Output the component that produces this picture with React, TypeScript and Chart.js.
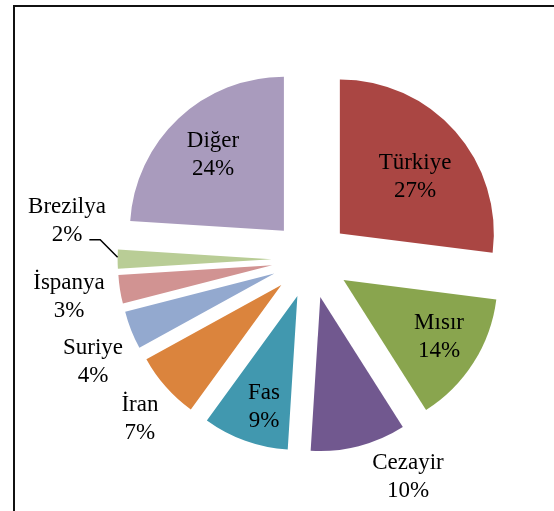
import React, { useEffect, useRef } from 'react';
import { Chart, registerables } from 'chart.js';

Chart.register(...registerables);

// ---- data ----
const categories = ['Türkiye', 'Mısır', 'Cezayir', 'Fas', 'İran', 'Suriye', 'İspanya', 'Brezilya', 'Diğer'];
const shares = [27, 14, 10, 9, 7, 4, 3, 2, 24];
const colors = ['#AA4643', '#89A54E', '#71588F', '#4198AF', '#DB843D', '#93A9CF', '#D19392', '#B9CD96', '#A99BBD'];

// ---- label layout (polar, relative to pie centre, in radius units / degree shift) ----
const labelRadius = [0.863, 0.975, 1.549, 1.006, 1.518, 1.563, 1.588, 1.601, 0.927];
const labelAngleShift = [3.2, -1.2, -9.7, -2.3, -1.7, -3.7, 0.1, 8.9, 0.1];
const leaderLine = [false, false, false, false, false, false, false, true, false];

const EXPLODE = 39;
const RADIUS = 154;
const FONT = '23px "Liberation Serif", "Times New Roman", serif';
const LINE_GAP = 27.5;

const explodePlugin = {
  id: 'explodePlugin',
  beforeDatasetDraw(chart: any, args: any) {
    const ctx = chart.ctx;
    args.meta.data.forEach((arc: any) => {
      const half = (arc.startAngle + arc.endAngle) / 2;
      ctx.save();
      ctx.translate(Math.cos(half) * EXPLODE, Math.sin(half) * EXPLODE);
      arc.draw(ctx);
      ctx.restore();
    });
    return false;
  },
};

const labelPlugin = {
  id: 'labelPlugin',
  afterDatasetsDraw(chart: any) {
    const ctx = chart.ctx;
    const meta = chart.getDatasetMeta(0);
    ctx.save();
    ctx.font = FONT;
    ctx.fillStyle = '#000';
    ctx.textAlign = 'center';
    ctx.textBaseline = 'middle';
    meta.data.forEach((arc: any, i: number) => {
      const half = (arc.startAngle + arc.endAngle) / 2;
      const ang = half + (labelAngleShift[i] * Math.PI) / 180;
      const r = labelRadius[i] * arc.outerRadius;
      const x = arc.x + Math.cos(ang) * r;
      const y = arc.y + Math.sin(ang) * r;
      ctx.fillText(categories[i], x, y - LINE_GAP / 2);
      const pct = shares[i] + '%';
      ctx.fillText(pct, x, y + LINE_GAP / 2);
      if (leaderLine[i]) {
        const edgeR = arc.outerRadius + EXPLODE;
        const ex = arc.x + Math.cos(half) * edgeR;
        const ey = arc.y + Math.sin(half) * edgeR - 2;
        const w = ctx.measureText(pct).width;
        const sx = x + w / 2 + 7;
        const sy = y + LINE_GAP / 2 + 5;
        const elbowX = ex - (ey - sy);
        ctx.beginPath();
        ctx.lineWidth = 1.5;
        ctx.strokeStyle = '#000';
        ctx.moveTo(sx, sy);
        ctx.lineTo(elbowX, sy);
        ctx.lineTo(ex, ey);
        ctx.stroke();
      }
    });
    ctx.restore();
  },
};

export default function App() {
  const ref = useRef<HTMLCanvasElement | null>(null);
  useEffect(() => {
    if (!ref.current) return;
    const chart = new Chart(ref.current, {
      type: 'pie',
      data: {
        labels: categories,
        datasets: [
          {
            data: shares,
            backgroundColor: colors,
            borderWidth: 0,
          },
        ],
      },
      options: {
        responsive: false,
        animation: false,
        radius: RADIUS,
        layout: { padding: { left: 110.6, right: 43.4, top: 59.2, bottom: 51.8 } },
        plugins: {
          legend: { display: false },
          tooltip: { enabled: false },
        },
      } as any,
      plugins: [explodePlugin, labelPlugin],
    });
    return () => chart.destroy();
  }, []);

  return (
    <div style={{ position: 'absolute', left: 0, top: 0, width: 554, height: 511, background: '#fff', overflow: 'hidden' }}>
      <canvas ref={ref} width={554} height={511} style={{ position: 'absolute', left: 0, top: 0, display: 'block' }} />
      <div
        style={{
          position: 'absolute',
          left: 13,
          top: 5,
          width: 700,
          height: 700,
          borderLeft: '2px solid #111',
          borderTop: '2px solid #111',
          pointerEvents: 'none',
        }}
      />
    </div>
  );
}
